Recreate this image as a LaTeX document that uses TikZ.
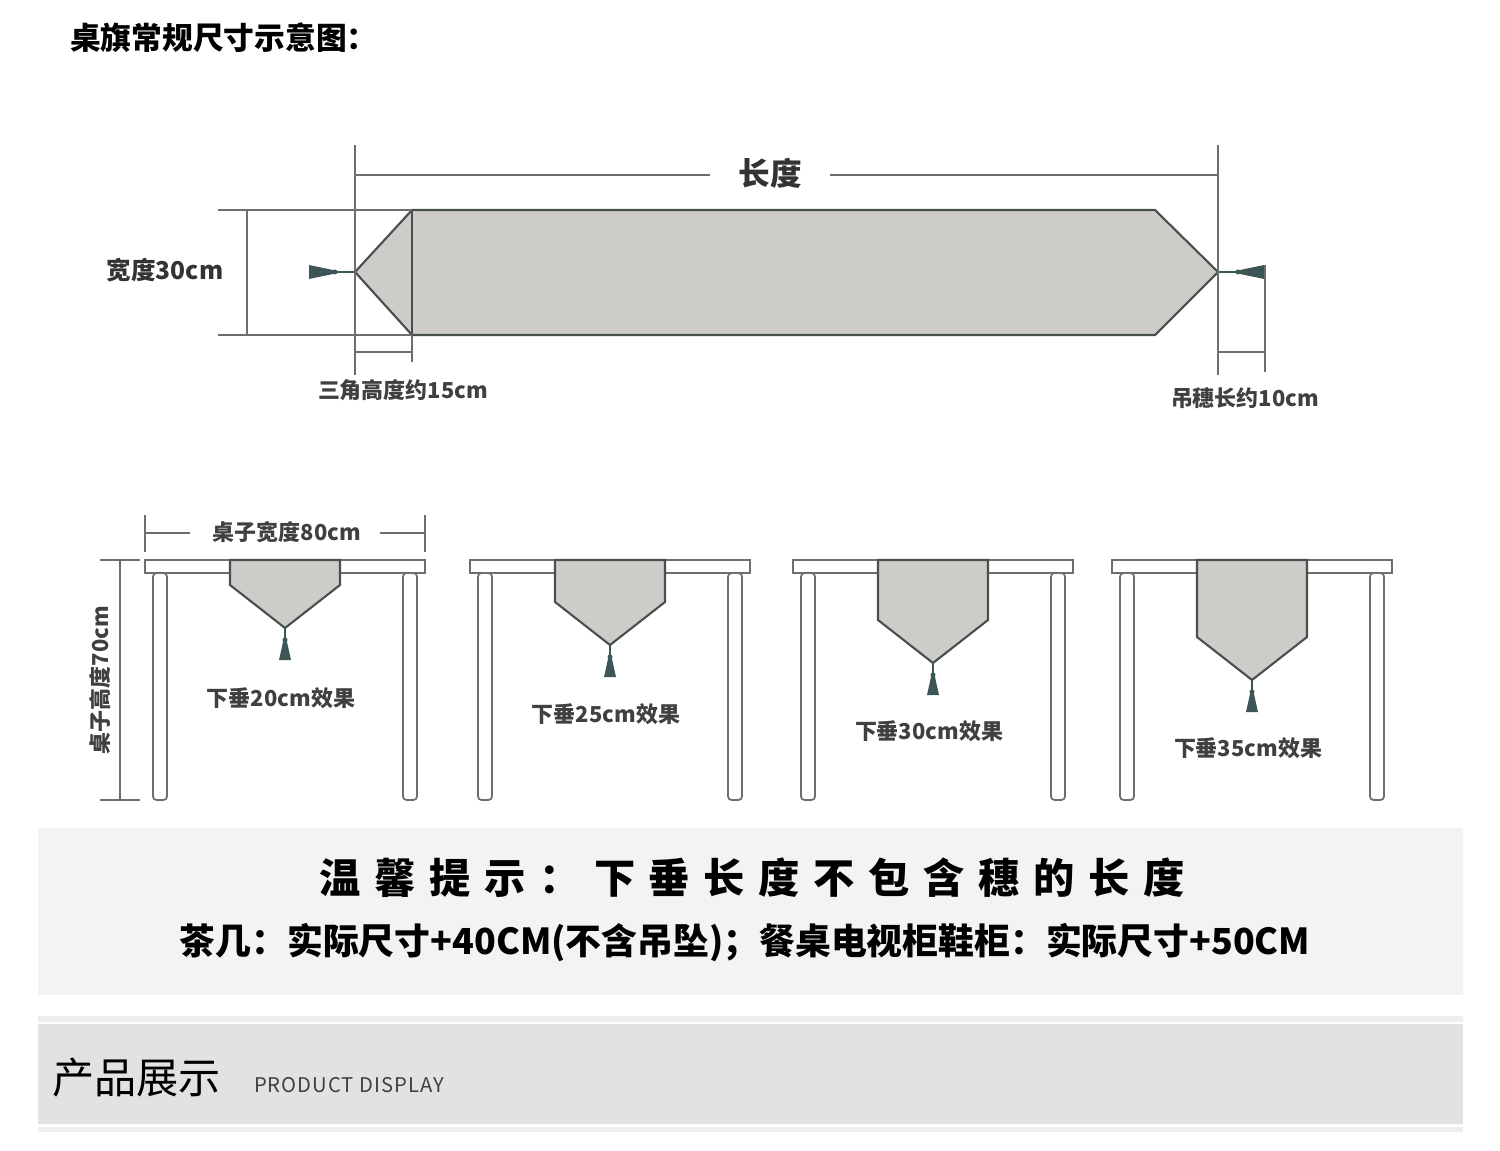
\documentclass[tikz,border=0pt]{standalone}
\usepackage{fontspec}
\setmainfont{Noto Sans CJK SC}
\usetikzlibrary{positioning}
\definecolor{runnerfill}{RGB}{206,204,201}
\definecolor{runnerline}{RGB}{70,80,76}
\definecolor{tasselcol}{RGB}{60,85,85}
\definecolor{dimline}{RGB}{110,110,110}
\definecolor{tipbox}{RGB}{243,243,243}
\definecolor{bandbox}{RGB}{226,226,226}
\tikzset{
  dim/.style={draw=dimline,line width=0.9pt},
  runner/.style={draw=runnerline,fill=runnerfill,line width=1.2pt},
  tabletop/.style={draw=dimline,fill=white,line width=1pt},
  leg/.style={draw=dimline,fill=white,line width=1pt,rounded corners=2pt},
  small/.style={font=\fontsize{12.5}{14}\selectfont\bfseries,text=black!75},
  tasseldown/.pic={
    \draw[tasselcol,line width=0.8pt] (0,0) -- (0,10);
    \fill[tasselcol] (0,12) circle (2.5);
    \fill[tasselcol] (-2,14) -- (2,14) -- (6,32) -- (-6,32) -- cycle;
  },
  tasselleft/.pic={
    \draw[tasselcol,line width=0.8pt] (0,0) -- (-18,0);
    \fill[tasselcol] (-20,0) circle (2.5);
    \fill[tasselcol] (-22,-2) -- (-22,2) -- (-46,7) -- (-46,-7) -- cycle;
  },
  tasselright/.pic={
    \draw[tasselcol,line width=0.8pt] (0,0) -- (18,0);
    \fill[tasselcol] (20,0) circle (2.5);
    \fill[tasselcol] (22,-2) -- (22,2) -- (46,7) -- (46,-7) -- cycle;
  }
}
\begin{document}
\begin{tikzpicture}[x=0.02cm,y=-0.02cm]
\useasboundingbox (0,0) rectangle (1500,1151);
% title
\node[anchor=west,font=\fontsize{17.5}{20}\selectfont\bfseries] (title) at (64,38) {桌旗常规尺寸示意图：};
% runner
\coordinate (rl) at (355,272);  \coordinate (rtl) at (412,210); \coordinate (rbl) at (412,335);
\coordinate (rr) at (1218,272); \coordinate (rtr) at (1155,210); \coordinate (rbr) at (1155,335);
\draw[runner] (rl) -- (rtl) -- (rtr) -- (rr) -- (rbr) -- (rbl) -- cycle;
\draw[runnerline,line width=0.6pt] (rtl) -- (rbl);
\pic at (rl) {tasselleft};
\pic at (rr) {tasselright};
% length
\node[font=\fontsize{18}{20}\selectfont\bfseries,text=black!80] (len) at (770,173) {长度};
\draw[dim] (355,145) -- (355,375);
\draw[dim] (1218,145) -- (1218,375);
\draw[dim] (355,175) -- (710,175);
\draw[dim] (830,175) -- (1218,175);
% width
\draw[dim] (218,210) -- (rtl);
\draw[dim] (218,335) -- (rbl);
\draw[dim] (247,210) -- (247,335);
\node[font=\fontsize{14}{16}\selectfont\bfseries,text=black!80] (wid) at (165,270) {宽度30cm};
% triangle height
\draw[dim] (rbl) -- (412,362);
\draw[dim] (355,352) -- (412,352);
\node[small] (tri) at (403,390) {三角高度约15cm};
% tassel length
\draw[dim] (1265,265) -- (1265,372);
\draw[dim] (1218,352) -- (1265,352);
\node[small] (tas) at (1245,398) {吊穗长约10cm};
% tables
\foreach \x/\d/\n in {145/0/20, 470/17/25, 793/35/30, 1112/52/35}{
  \draw[leg] (\x+8,573) rectangle (\x+22,800);
  \draw[leg] (\x+258,573) rectangle (\x+272,800);
  \draw[tabletop] (\x,560) rectangle (\x+280,573);
  \draw[runner] (\x+85,560) -- (\x+85,585+\d) -- (\x+140,628+\d) -- (\x+195,585+\d) -- (\x+195,560) -- cycle;
  \pic at (\x+140,628+\d) {tasseldown};
  \node[small] at (\x+136,698+\d*0.96) {下垂\n cm效果};
}
% table width
\node[small] (tw) at (287,532) {桌子宽度80cm};
\draw[dim] (145,515) -- (145,552);
\draw[dim] (425,515) -- (425,552);
\draw[dim] (145,533) -- (190,533);
\draw[dim] (380,533) -- (425,533);
% table height
\draw[dim] (120,560) -- (120,800);
\draw[dim] (100,560) -- (140,560);
\draw[dim] (100,800) -- (140,800);
\node[small,rotate=90] (th) at (100,680) {桌子高度70cm};
% tip box
\fill[tipbox] (38,828) rectangle (1463,995);
\node[font=\fontsize{23.5}{26}\selectfont\bfseries\addfontfeature{LetterSpace=33}] (tip) at (752,878) {温馨提示：下垂长度不包含穗的长度};
\node[font=\fontsize{20.4}{22}\selectfont\bfseries] (tip2) at (745,943) {茶几：实际尺寸+40CM(不含吊坠)；餐桌电视柜鞋柜：实际尺寸+50CM};
% product band
\fill[bandbox!60] (38,1016) rectangle (1463,1022);
\fill[bandbox] (38,1024) rectangle (1463,1124);
\fill[bandbox!60] (38,1127) rectangle (1463,1132);
\node[anchor=west,font=\fontsize{24}{26}\selectfont] (prod) at (46,1078) {产品展示};
\node[anchor=west,font=\fontsize{11.5}{13}\selectfont\addfontfeature{LetterSpace=5},text=black!75] (disp) at (248,1085) {PRODUCT DISPLAY};
\end{tikzpicture}
\end{document}
